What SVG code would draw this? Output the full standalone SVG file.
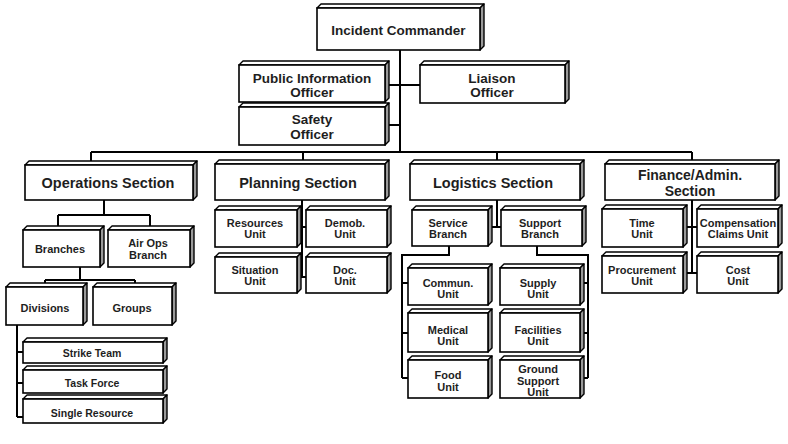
<svg xmlns="http://www.w3.org/2000/svg" width="788" height="444" viewBox="0 0 788 444">
<style>
.f{fill:#fff;stroke:#000;stroke-width:1.6}
.t{fill:#fff;stroke:#000;stroke-width:1.4;stroke-linejoin:round}
.r{fill:#9a9a9a;stroke:#000;stroke-width:1.4;stroke-linejoin:round}
text{font-family:"Liberation Sans",Arial,sans-serif;font-weight:bold;fill:#1e1e1e;text-anchor:middle}
.l{font-size:14.5px}
.lf{font-size:14px}
.m{font-size:13.5px}
.s{font-size:11px}
.xs{font-size:10.5px}
.c{fill:none;stroke:#000;stroke-width:2}
</style>
<rect width="788" height="444" fill="#fff"/>
<g id="connectors">
<path class="c" d="M400,50V152M385,85H420M385,125H400M91,152H692M91,152V161M303,152V160M497,152V160M692,152V160"/>
<path class="c" d="M104,200V215M58,215H150M58,215V226M150,215V226M80,267V280M45,280H135M45,280V283M135,280V283M17,325V417M17,352H23M17,383H23M17,417H23"/>
<path class="c" d="M302,200V277M297,227H306M297,277H306"/>
<path class="c" d="M497,200V227M492,227H501M449,246V255H402V378M402,283H408M402,333H408M402,378H408M537,246V255H588V378M584,283H588M584,333H588M584,378H588"/>
<path class="c" d="M692,200V273M687,227H697M687,273H697"/>
</g>
<g id="incident-commander"><polygon class="t" points="317,8 321,4 484,4 480,8"/><polygon class="r" points="480,8 484,4 484,46 480,50"/><rect class="f" x="317" y="8" width="163" height="42"/><text class="m" x="398.5" y="34.5">Incident Commander</text></g>
<g id="public-information-officer"><polygon class="t" points="239,65 243,61 389,61 385,65"/><polygon class="r" points="385,65 389,61 389,98 385,102"/><rect class="f" x="239" y="65" width="146" height="37"/><text class="m" x="312" y="83">Public Information</text><text class="m" x="312" y="97">Officer</text></g>
<g id="liaison-officer"><polygon class="t" points="420,65 424,61 569,61 565,65"/><polygon class="r" points="565,65 569,61 569,99 565,103"/><rect class="f" x="420" y="65" width="145" height="38"/><text class="m" x="492" y="83">Liaison</text><text class="m" x="492" y="97">Officer</text></g>
<g id="safety-officer"><polygon class="t" points="239,107 243,103 389,103 385,107"/><polygon class="r" points="385,107 389,103 389,141 385,145"/><rect class="f" x="239" y="107" width="146" height="38"/><text class="m" x="312" y="124">Safety</text><text class="m" x="312" y="139">Officer</text></g>
<g id="operations-section"><polygon class="t" points="25,165 29,161 197,161 193,165"/><polygon class="r" points="193,165 197,161 197,196 193,200"/><rect class="f" x="25" y="165" width="168" height="35"/><text class="l" x="108" y="188">Operations Section</text></g>
<g id="branches"><polygon class="t" points="23,230 27,226 104,226 100,230"/><polygon class="r" points="100,230 104,226 104,263 100,267"/><rect class="f" x="23" y="230" width="77" height="37"/><text class="s" x="60" y="253">Branches</text></g>
<g id="air-ops-branch"><polygon class="t" points="108,230 112,226 194,226 190,230"/><polygon class="r" points="190,230 194,226 194,263 190,267"/><rect class="f" x="108" y="230" width="82" height="37"/><text class="s" x="148" y="247">Air Ops</text><text class="s" x="148" y="259">Branch</text></g>
<g id="divisions"><polygon class="t" points="6,287 10,283 87,283 83,287"/><polygon class="r" points="83,287 87,283 87,321 83,325"/><rect class="f" x="6" y="287" width="77" height="38"/><text class="s" x="45" y="312">Divisions</text></g>
<g id="groups"><polygon class="t" points="93,287 97,283 176,283 172,287"/><polygon class="r" points="172,287 176,283 176,321 172,325"/><rect class="f" x="93" y="287" width="79" height="38"/><text class="s" x="132" y="312">Groups</text></g>
<g id="strike-team"><polygon class="t" points="23,342 27,338 167,338 163,342"/><polygon class="r" points="163,342 167,338 167,359 163,363"/><rect class="f" x="23" y="342" width="140" height="21"/><text class="xs" x="92" y="357">Strike Team</text></g>
<g id="task-force"><polygon class="t" points="23,370 27,366 167,366 163,370"/><polygon class="r" points="163,370 167,366 167,389 163,393"/><rect class="f" x="23" y="370" width="140" height="23"/><text class="xs" x="92" y="387">Task Force</text></g>
<g id="single-resource"><polygon class="t" points="23,399 27,395 167,395 163,399"/><polygon class="r" points="163,399 167,395 167,419 163,423"/><rect class="f" x="23" y="399" width="140" height="24"/><text class="xs" x="92" y="417">Single Resource</text></g>
<g id="planning-section"><polygon class="t" points="215,164 219,160 389,160 385,164"/><polygon class="r" points="385,164 389,160 389,196 385,200"/><rect class="f" x="215" y="164" width="170" height="36"/><text class="l" x="298" y="188">Planning Section</text></g>
<g id="resources-unit"><polygon class="t" points="215,210 219,206 301,206 297,210"/><polygon class="r" points="297,210 301,206 301,243 297,247"/><rect class="f" x="215" y="210" width="82" height="37"/><text class="s" x="255" y="227">Resources</text><text class="s" x="255" y="238">Unit</text></g>
<g id="demob-unit"><polygon class="t" points="306,210 310,206 391,206 387,210"/><polygon class="r" points="387,210 391,206 391,243 387,247"/><rect class="f" x="306" y="210" width="81" height="37"/><text class="s" x="345" y="227">Demob.</text><text class="s" x="345" y="238">Unit</text></g>
<g id="situation-unit"><polygon class="t" points="215,257 219,253 301,253 297,257"/><polygon class="r" points="297,257 301,253 301,289 297,293"/><rect class="f" x="215" y="257" width="82" height="36"/><text class="s" x="255" y="274">Situation</text><text class="s" x="255" y="285">Unit</text></g>
<g id="doc-unit"><polygon class="t" points="306,257 310,253 391,253 387,257"/><polygon class="r" points="387,257 391,253 391,289 387,293"/><rect class="f" x="306" y="257" width="81" height="36"/><text class="s" x="345" y="274">Doc.</text><text class="s" x="345" y="285">Unit</text></g>
<g id="logistics-section"><polygon class="t" points="410,164 414,160 584,160 580,164"/><polygon class="r" points="580,164 584,160 584,196 580,200"/><rect class="f" x="410" y="164" width="170" height="36"/><text class="l" x="493" y="188">Logistics Section</text></g>
<g id="service-branch"><polygon class="t" points="412,210 416,206 492,206 488,210"/><polygon class="r" points="488,210 492,206 492,242 488,246"/><rect class="f" x="412" y="210" width="76" height="36"/><text class="s" x="448" y="227">Service</text><text class="s" x="448" y="238">Branch</text></g>
<g id="support-branch"><polygon class="t" points="501,210 505,206 586,206 582,210"/><polygon class="r" points="582,210 586,206 586,242 582,246"/><rect class="f" x="501" y="210" width="81" height="36"/><text class="s" x="540" y="227">Support</text><text class="s" x="540" y="238">Branch</text></g>
<g id="commun-unit"><polygon class="t" points="408,268 412,264 492,264 488,268"/><polygon class="r" points="488,268 492,264 492,301 488,305"/><rect class="f" x="408" y="268" width="80" height="37"/><text class="s" x="448" y="287">Commun.</text><text class="s" x="448" y="298">Unit</text></g>
<g id="medical-unit"><polygon class="t" points="408,313 412,309 492,309 488,313"/><polygon class="r" points="488,313 492,309 492,348 488,352"/><rect class="f" x="408" y="313" width="80" height="39"/><text class="s" x="448" y="334">Medical</text><text class="s" x="448" y="345">Unit</text></g>
<g id="food-unit"><polygon class="t" points="408,360 412,356 492,356 488,360"/><polygon class="r" points="488,360 492,356 492,394 488,398"/><rect class="f" x="408" y="360" width="80" height="38"/><text class="s" x="448" y="379">Food</text><text class="s" x="448" y="391">Unit</text></g>
<g id="supply-unit"><polygon class="t" points="500,268 504,264 584,264 580,268"/><polygon class="r" points="580,268 584,264 584,301 580,305"/><rect class="f" x="500" y="268" width="80" height="37"/><text class="s" x="538" y="287">Supply</text><text class="s" x="538" y="298">Unit</text></g>
<g id="facilities-unit"><polygon class="t" points="500,313 504,309 584,309 580,313"/><polygon class="r" points="580,313 584,309 584,348 580,352"/><rect class="f" x="500" y="313" width="80" height="39"/><text class="s" x="538" y="334">Facilities</text><text class="s" x="538" y="345">Unit</text></g>
<g id="ground-support-unit"><polygon class="t" points="500,360 504,356 584,356 580,360"/><polygon class="r" points="580,360 584,356 584,394 580,398"/><rect class="f" x="500" y="360" width="80" height="38"/><text class="s" x="538" y="373">Ground</text><text class="s" x="538" y="385">Support</text><text class="s" x="538" y="396">Unit</text></g>
<g id="finance-admin-section"><polygon class="t" points="605,164 609,160 779,160 775,164"/><polygon class="r" points="775,164 779,160 779,196 775,200"/><rect class="f" x="605" y="164" width="170" height="36"/><text class="lf" x="690" y="179.5">Finance/Admin.</text><text class="lf" x="690" y="196">Section</text></g>
<g id="time-unit"><polygon class="t" points="602,209 606,205 687,205 683,209"/><polygon class="r" points="683,209 687,205 687,243 683,247"/><rect class="f" x="602" y="209" width="81" height="38"/><text class="s" x="642" y="227">Time</text><text class="s" x="642" y="238">Unit</text></g>
<g id="compensation-claims-unit"><polygon class="t" points="697,209 701,205 782,205 778,209"/><polygon class="r" points="778,209 782,205 782,243 778,247"/><rect class="f" x="697" y="209" width="81" height="38"/><text class="s" x="738" y="227">Compensation</text><text class="s" x="738" y="238">Claims Unit</text></g>
<g id="procurement-unit"><polygon class="t" points="602,256 606,252 687,252 683,256"/><polygon class="r" points="683,256 687,252 687,289 683,293"/><rect class="f" x="602" y="256" width="81" height="37"/><text class="s" x="642" y="274">Procurement</text><text class="s" x="642" y="285">Unit</text></g>
<g id="cost-unit"><polygon class="t" points="697,256 701,252 782,252 778,256"/><polygon class="r" points="778,256 782,252 782,289 778,293"/><rect class="f" x="697" y="256" width="81" height="37"/><text class="s" x="738" y="274">Cost</text><text class="s" x="738" y="285">Unit</text></g>
</svg>
